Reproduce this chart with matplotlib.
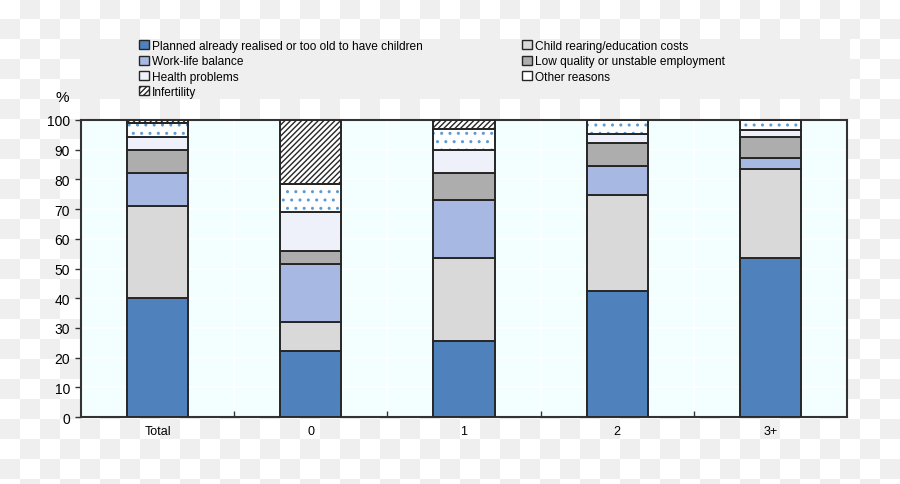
import numpy as np
import matplotlib
matplotlib.use("Agg")
import matplotlib.pyplot as plt
from matplotlib.patches import Rectangle, Patch

plt.rcParams['font.family'] = ['Liberation Sans Narrow', 'Liberation Sans', 'DejaVu Sans']

categories = ["Total", "0", "1", "2", "3+"]

# stacked from bottom to top
planned = [40.0, 22.2, 25.5, 42.5, 53.6]
child_costs = [31.2, 9.8, 28.1, 32.4, 29.9]
work_life = [10.8, 19.5, 19.5, 9.6, 3.7]
low_quality = [8.0, 4.3, 9.2, 7.9, 7.1]
health = [4.2, 13.2, 7.7, 3.0, 2.3]
other = [4.7, 9.5, 7.1, 4.6, 3.4]
infertility = [1.1, 21.5, 2.9, 0.0, 0.0]

series = [
    ("Planned already realised or too old to have children", planned, "#4F81BD", None),
    ("Child rearing/education costs", child_costs, "#D9D9D9", None),
    ("Work-life balance", work_life, "#A7B9E2", None),
    ("Low quality or unstable employment", low_quality, "#ADADAD", None),
    ("Health problems", health, "#EEF1F9", None),
    ("Other reasons", other, "#FFFFFF", ".."),
    ("Infertility", infertility, "#FFFFFF", "//////"),
]

W, H = 900, 485
fig = plt.figure(figsize=(W / 100, H / 100), dpi=100)

# checkerboard backdrop
bg = fig.add_axes([0, 0, 1, 1], zorder=-10)
nx, ny = W // 20 + 1, H // 20 + 1
board = (np.add.outer(np.arange(ny), np.arange(nx)) % 2).astype(float)
bg.imshow(board, cmap=matplotlib.colors.ListedColormap(["#FFFFFF", "#EFEFEF"]),
          extent=[0, nx * 20, ny * 20, 0], interpolation="nearest")
bg.set_xlim(0, W)
bg.set_ylim(H, 0)
bg.axis("off")
# legend panel
bg.add_patch(Rectangle((80, 40), 770, 60, facecolor="#EFEFEF", edgecolor="none"))

ax = fig.add_axes([81 / W, 1 - 418 / H, (847 - 81) / W, (418 - 121) / H])
ax.set_facecolor("#F3FFFF")
x = np.arange(len(categories))
width = 0.4
bottom = np.zeros(len(categories))
handles = []
for name, vals, color, hatch in series:
    vals = np.array(vals)
    if hatch == "..":
        ax.bar(x, vals, width, bottom=bottom, color=color, edgecolor="#5B9BD5",
               hatch=hatch, linewidth=0, zorder=3)
        ax.bar(x, vals, width, bottom=bottom, fill=False, edgecolor="#262626",
               linewidth=1.4, zorder=4)
        handles.append(Patch(facecolor=color, edgecolor="#262626", linewidth=1))
    else:
        ax.bar(x, vals, width, bottom=bottom, color=color, edgecolor="#262626",
               hatch=hatch, linewidth=1.4, zorder=3)
        handles.append(Patch(facecolor=color, edgecolor="#262626", hatch=hatch, linewidth=1))
    bottom += vals

ax.set_xlim(-0.5, len(categories) - 0.5)
ax.set_ylim(0, 100)
ax.set_yticks(range(0, 101, 10))
ax.set_xticks(x)
ax.set_xticklabels(categories)
ax.set_xticks(np.arange(0.5, len(categories) - 0.5, 1), minor=True)
ax.tick_params(axis="x", which="major", length=0, labelsize=9, pad=6)
ax.tick_params(axis="x", which="minor", direction="in", length=4, width=1, color="#333333")
ax.tick_params(axis="y", direction="out", length=4, width=1, color="#333333", labelsize=10, pad=4)
ax.grid(axis="y", color="white", linewidth=1.2, zorder=0)
ax.grid(axis="x", which="minor", color="white", linewidth=1.2, zorder=0)
ax.set_axisbelow(True)
for s in ax.spines.values():
    s.set_color("#333333")
    s.set_linewidth(1.5)

fig.text(62 / W, 1 - 98 / H, "%", fontsize=11, ha="center", va="center")

leg_kw = dict(loc="upper left", frameon=False, fontsize=8.6, handlelength=0.8,
              handleheight=0.8, handletextpad=0.3, labelspacing=0.28,
              borderpad=0, borderaxespad=0)
col1 = [0, 2, 4, 6]
col2 = [1, 3, 5]
leg1 = fig.legend([handles[i] for i in col1], [series[i][0] for i in col1],
                  bbox_to_anchor=(139 / W, 1 - 41 / H), **leg_kw)
leg2 = fig.legend([handles[i] for i in col2], [series[i][0] for i in col2],
                  bbox_to_anchor=(522 / W, 1 - 41 / H), **leg_kw)

fig.savefig("out.png", dpi=100)
